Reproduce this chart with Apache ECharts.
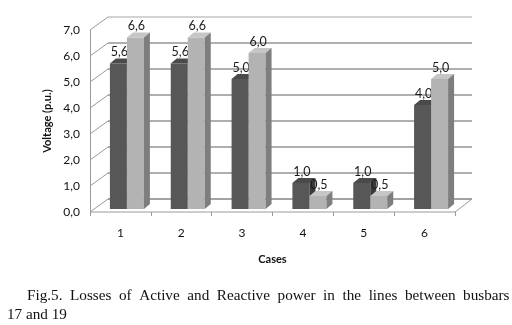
<!DOCTYPE html>
<html>
<head>
<meta charset="utf-8">
<script src="https://cdn.jsdelivr.net/npm/echarts@6/dist/echarts.min.js"></script>
<style>
  html, body { margin: 0; padding: 0; background: #fff; }
  #chart { width: 512px; height: 325px; }
</style>
</head>
<body>
<div id="chart"></div>
<script>
  var cases = ['1', '2', '3', '4', '5', '6']
  var activeLoss = [5.6, 5.6, 5.0, 1.0, 1.0, 4.0]
  var reactiveLoss = [6.6, 6.6, 6.0, 0.5, 0.5, 5.0]
  var yTicks = [0, 1, 2, 3, 4, 5, 6, 7]

  var labelFont = 'Lato, "Open Sans", sans-serif'
  var fmt = function (v) { return v.toFixed(1).replace('.', ',') }

  // back wall offset of the fake 3d box
  var wallDx = 18, wallDy = -13

  function frameItem (params, api) {
    var v = api.value(1)
    var p = api.coord([0, v])
    var bw = api.size([1, 0])[0]
    var x0 = p[0] - bw / 2
    var x1 = x0 + cases.length * bw
    var y = p[1]
    var children = []
    if (v === 0) {
      children.push({
        type: 'polygon',
        shape: { points: [[x0, y], [x1, y], [x1 + wallDx - 1, y + wallDy], [x0 + wallDx, y + wallDy]] },
        style: { fill: '#fff', stroke: '#9a9a9a', lineWidth: 1 },
      })
    } else {
      children.push({
        type: 'line',
        shape: { x1: x0, y1: y, x2: x0 + wallDx, y2: y + wallDy },
        style: { stroke: '#9a9a9a', lineWidth: 1 },
      })
    }
    children.push({
      type: 'line',
      shape: { x1: x0 + wallDx, y1: y + wallDy, x2: x1 + wallDx - 1, y2: y + wallDy },
      style: { stroke: v === 7 ? '#c4c4c4' : '#949494', lineWidth: 1.6 },
    })
    return { type: 'group', children: children }
  }

  function barItem (shift, front, top, side) {
    return function (params, api) {
      var idx = api.value(0)
      var v = api.value(1)
      var p = api.coord([idx, v])
      var b = api.coord([idx, 0])
      var w = 17, dx = 6, dy = -5
      var x = p[0] + shift
      var y0 = b[1] - 3
      var y1 = p[1] - 3
      return {
        type: 'group',
        children: [
          { type: 'rect', shape: { x: x, y: y1, width: w, height: y0 - y1 }, style: { fill: front } },
          { type: 'polygon', shape: { points: [[x, y1], [x + dx, y1 + dy], [x + w + dx, y1 + dy], [x + w, y1]] }, style: { fill: top } },
          { type: 'polygon', shape: { points: [[x + w, y1], [x + w + dx, y1 + dy], [x + w + dx, y0 + dy], [x + w, y0]] }, style: { fill: side } },
          {
            type: 'text',
            style: {
              text: fmt(v), x: x + w / 2 + 1, y: y1 - 11,
              align: 'center', verticalAlign: 'middle',
              fontSize: 12.5, fontFamily: labelFont, fill: '#1a1a1a',
            },
          },
        ],
      }
    }
  }

  // caption is justified in the paper, so widen the word gaps a little
  var captionLine1 = 'Fig.5. Losses of Active and Reactive power in the lines between busbars'.split(' ').join('\u2002')

  var chart = echarts.init(document.getElementById('chart'))
  var option = {
    backgroundColor: '#fff',
    animation: false,
    grid: { left: 90, right: 57, top: 30, bottom: 113 },
    xAxis: {
      type: 'category',
      data: cases,
      name: 'Cases',
      nameLocation: 'middle',
      nameGap: 42,
      nameTextStyle: { fontFamily: labelFont, fontWeight: 'bold', fontSize: 11, color: '#111' },
      axisLine: { show: false },
      axisTick: { show: true, length: 4, lineStyle: { color: '#9a9a9a' } },
      axisLabel: { margin: 15, fontFamily: labelFont, fontSize: 12, color: '#111' },
    },
    yAxis: {
      type: 'value',
      min: 0,
      max: 7,
      interval: 1,
      name: 'Voltage (p.u.)',
      nameLocation: 'middle',
      nameGap: 36,
      nameTextStyle: { fontFamily: labelFont, fontWeight: 'bold', fontSize: 11, color: '#111' },
      axisLine: { show: true, lineStyle: { color: '#9a9a9a' } },
      axisTick: { show: false },
      splitLine: { show: false },
      axisLabel: { margin: 10, fontFamily: labelFont, fontSize: 12, color: '#111', formatter: fmt },
    },
    graphic: [
      {
        type: 'text', left: 27, top: 289,
        style: {
          text: captionLine1,
          fontFamily: '"Liberation Serif", serif', fontSize: 15.2, fill: '#111',
        },
      },
      {
        type: 'text', left: 7, top: 308,
        style: { text: '17 and 19', fontFamily: '"Liberation Serif", serif', fontSize: 15.2, fill: '#111' },
      },
    ],
    series: [
      {
        type: 'custom',
        name: 'frame',
        renderItem: frameItem,
        data: yTicks.map(function (t) { return [0, t] }),
        encode: { x: 0, y: 1 },
        z: 1,
        silent: true,
      },
      {
        type: 'custom',
        name: 'Active',
        renderItem: barItem(-10.5, '#575757', '#4a4a4a', '#3a3a3a'),
        data: activeLoss.map(function (v, i) { return [i, v] }),
        encode: { x: 0, y: 1 },
        z: 2,
      },
      {
        type: 'custom',
        name: 'Reactive',
        renderItem: barItem(6.5, '#b3b3b3', '#c6c6c6', '#7e7e7e'),
        data: reactiveLoss.map(function (v, i) { return [i, v] }),
        encode: { x: 0, y: 1 },
        z: 3,
      },
    ],
  }
  chart.setOption(option)
</script>
</body>
</html>
